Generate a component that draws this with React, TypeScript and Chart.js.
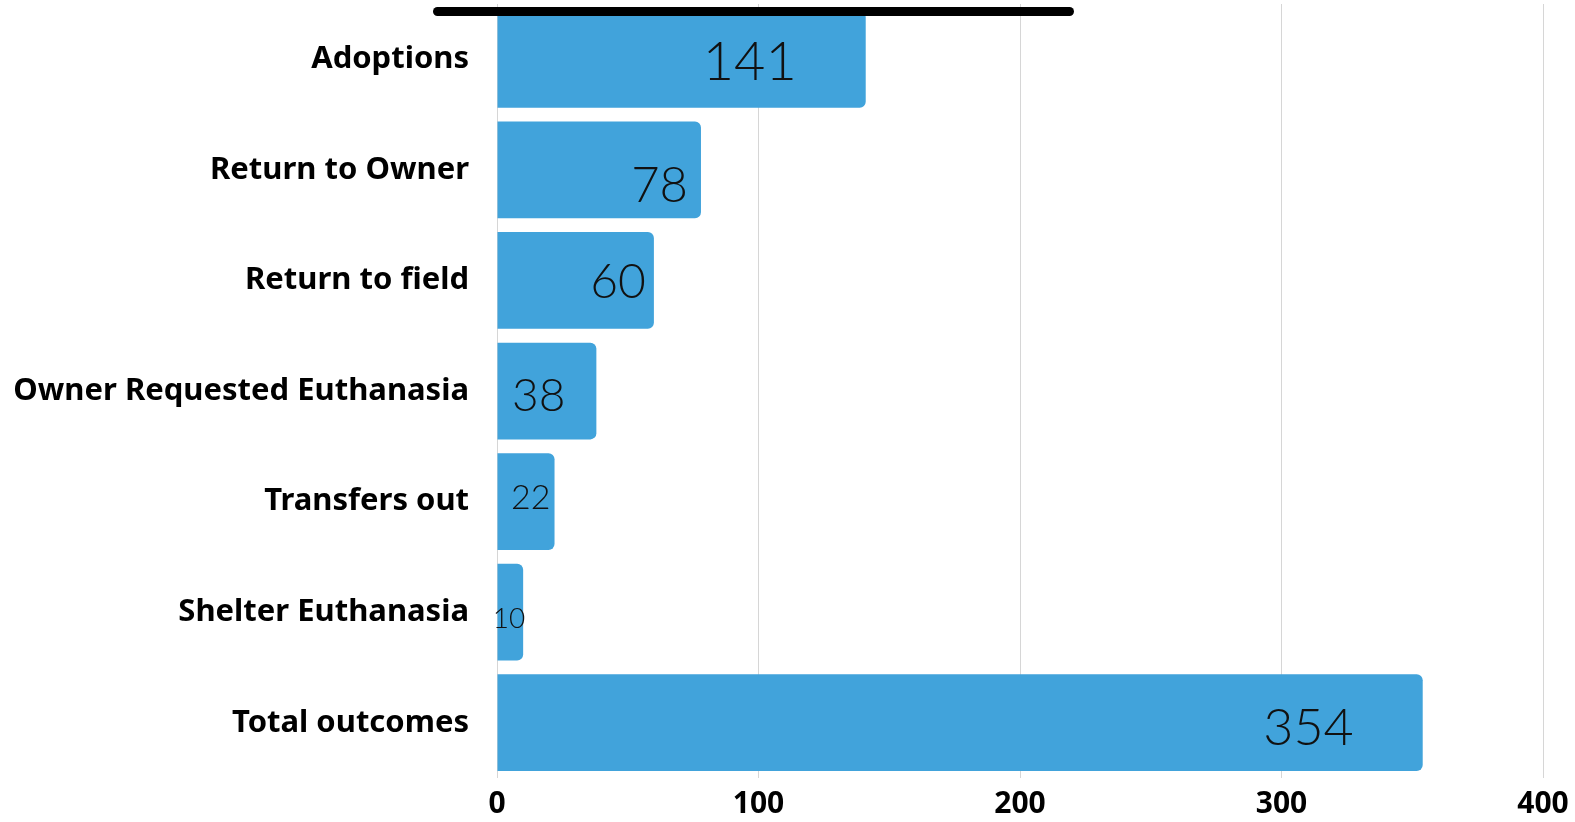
import React, { useEffect, useRef } from "react";
import { Chart, registerables } from "chart.js";

Chart.register(...registerables);

const categories = [
  "Adoptions",
  "Return to Owner",
  "Return to field",
  "Owner Requested Euthanasia",
  "Transfers out",
  "Shelter Euthanasia",
  "Total outcomes",
];
const outcomeValues = [141, 78, 60, 38, 22, 10, 354];
const xTicks = [0, 100, 200, 300, 400];

// label styling per bar (font size px, inset from bar end px, vertical shift px)
const labelFontSizes = [54, 49, 48, 46, 34, 28, 52];
const labelInsets = [69, 13, 8, 31, 4, -2, 69];
const labelShifts = [3, 16, 2, 5, -4, 7, 6];

const BAR_COLOR = "#41a3db";

const valueLabelPlugin = {
  id: "valueLabels",
  afterDatasetsDraw(chart: any) {
    const ctx = chart.ctx;
    const meta = chart.getDatasetMeta(0);
    ctx.save();
    meta.data.forEach((bar: any, i: number) => {
      const v = outcomeValues[i];
      ctx.font = `300 ${labelFontSizes[i]}px Lato, "Open Sans", sans-serif`;
      ctx.fillStyle = "#111111";
      ctx.textAlign = "right";
      ctx.textBaseline = "middle";
      ctx.fillText(String(v), bar.x - labelInsets[i], bar.y + labelShifts[i]);
    });
    ctx.restore();
  },
};

export default function App() {
  const canvasRef = useRef<HTMLCanvasElement | null>(null);

  useEffect(() => {
    document.body.style.margin = "0";
    const canvas = canvasRef.current;
    if (!canvas) return;
    const chart = new Chart(canvas, {
      type: "bar",
      data: {
        labels: categories,
        datasets: [
          {
            data: outcomeValues,
            backgroundColor: BAR_COLOR,
            borderRadius: 6,
            borderSkipped: "start",
            categoryPercentage: 1,
            barPercentage: 0.875,
          },
        ],
      },
      options: {
        indexAxis: "y",
        animation: false,
        responsive: true,
        maintainAspectRatio: false,
        layout: { padding: { top: 4, right: 32, left: 0, bottom: 0 } },
        plugins: {
          legend: { display: false },
          tooltip: { enabled: false },
        },
        scales: {
          x: {
            min: 0,
            max: 400,
            afterBuildTicks(axis: any) {
              axis.ticks = xTicks.map((v) => ({ value: v }));
            },
            afterFit(axis: any) {
              axis.height = 44;
              axis.paddingLeft = 0;
              axis.paddingRight = 0;
              axis.paddingTop = 0;
              axis.paddingBottom = 0;
            },
            grid: {
              color: "#d6d6d6",
              lineWidth: 1,
              drawTicks: false,
            },
            border: { display: false },
            ticks: {
              padding: 8,
              color: "#000000",
              font: { family: '"Noto Sans", sans-serif', size: 30, weight: "bold" },
            },
          },
          y: {
            afterFit(axis: any) {
              axis.width = 497;
              axis.paddingLeft = 0;
              axis.paddingRight = 0;
              axis.paddingTop = 0;
              axis.paddingBottom = 0;
            },
            grid: { display: false, drawTicks: false },
            border: { display: false },
            ticks: {
              padding: 28,
              color: "#000000",
              font: { family: '"Noto Sans", sans-serif', size: 31, weight: "bold" },
            },
          },
        },
      },
      plugins: [valueLabelPlugin],
    });
    return () => chart.destroy();
  }, []);

  return (
    <div style={{ position: "fixed", left: 0, top: 0, width: 1575, height: 822 }}>
      <canvas ref={canvasRef} />
      <div
        style={{
          position: "absolute",
          left: 433,
          top: 7,
          width: 641,
          height: 9,
          background: "#000",
          borderRadius: 5,
        }}
      />
    </div>
  );
}
